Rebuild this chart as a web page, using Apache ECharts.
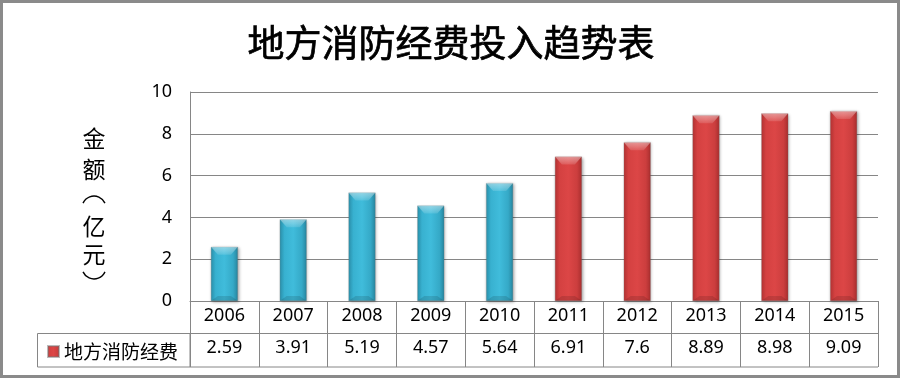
<!DOCTYPE html>
<html>
<head>
<meta charset="utf-8">
<script src="https://cdn.jsdelivr.net/npm/echarts@6/dist/echarts.min.js"></script>
<style>
html,body{margin:0;padding:0;background:#fff;}
#c{width:902px;height:379px;}
</style>
</head>
<body>
<div id="c"></div>
<script>
const titleText = '地方消防经费投入趋势表';
const seriesName = '地方消防经费';
const yAxisChars = ['金','额','(','亿','元',')'];
const years = ['2006','2007','2008','2009','2010','2011','2012','2013','2014','2015'];
const values = [2.59, 3.91, 5.19, 4.57, 5.64, 6.91, 7.6, 8.89, 8.98, 9.09];
const valueLabels = ['2.59','3.91','5.19','4.57','5.64','6.91','7.6','8.89','8.98','9.09'];
const blueCount = 5;

const G = echarts.graphic.LinearGradient;
const blueGrad = new G(0,0,1,0,[
  {offset:0,color:'#2b93ae'},{offset:0.18,color:'#38b1d0'},{offset:0.5,color:'#40bcdb'},
  {offset:0.82,color:'#35a9c7'},{offset:1,color:'#27859e'}]);
const redGrad = new G(0,0,1,0,[
  {offset:0,color:'#b73434'},{offset:0.18,color:'#d44141'},{offset:0.5,color:'#dc4646'},
  {offset:0.82,color:'#cc3e3e'},{offset:1,color:'#a82e2e'}]);

const gridLine = '#868686';
const font = '"Noto Sans", "Open Sans", sans-serif';
const cjk = '"Noto Sans CJK SC", sans-serif';
const BAR_W = 27;

// vertical axis name: glyphs stacked; the parentheses of vertical text are drawn as arcs
const nameX = 94;
const nameYs = [138, 169, 200, 226, 254, 275];
const nameGraphics = [];
yAxisChars.forEach((ch, i) => {
  if (ch === '(' || ch === ')') {
    const r = 12, span = 66 * Math.PI / 180;
    const up = ch === '(';
    const mid = up ? 1.5 * Math.PI : 0.5 * Math.PI;
    nameGraphics.push({type:'arc', silent:true,
      shape:{cx:nameX, cy: up ? nameYs[i] + 8 : nameYs[i] - 8, r:r,
        startAngle:mid - span, endAngle:mid + span, clockwise:true},
      style:{stroke:'#000', lineWidth:1.4, fill:null}});
  } else {
    nameGraphics.push({type:'text', x:nameX, y:nameYs[i], silent:true,
      style:{text:ch, fill:'#000', align:'center', verticalAlign:'middle',
        font:'23px "Noto Sans CJK SC", sans-serif'}});
  }
});

const chart = echarts.init(document.getElementById('c'), null, {renderer:'canvas'});
chart.setOption({
  animation:false,
  backgroundColor:'#fff',
  title:{text:titleText,left:'center',top:19,
    textStyle:{fontFamily:cjk,fontSize:37,fontWeight:'normal',color:'#000',
      textBorderColor:'#000',textBorderWidth:0.7}},
  legend:{left:42,top:337,icon:'rect',itemWidth:11,itemHeight:11,itemGap:5,
    textStyle:{fontFamily:cjk,fontSize:19,color:'#000'},data:[seriesName]},
  grid:{left:190,right:24,top:92,bottom:78},
  xAxis:[
    {type:'category',data:years,position:'bottom',
      axisLine:{lineStyle:{color:gridLine,width:1}},
      axisTick:{show:true,length:32,lineStyle:{color:gridLine}},
      axisLabel:{margin:6,fontFamily:font,fontSize:18,color:'#000'}},
    {type:'category',data:valueLabels,position:'bottom',offset:32,
      axisLine:{lineStyle:{color:gridLine,width:1}},
      axisTick:{show:true,length:34,lineStyle:{color:gridLine}},
      axisLabel:{margin:6,fontFamily:font,fontSize:18,color:'#000'}}
  ],
  yAxis:{type:'value',min:0,max:10,interval:2,
    axisLine:{show:true,lineStyle:{color:gridLine}},
    axisTick:{show:false},
    axisLabel:{margin:18,fontFamily:font,fontSize:18,color:'#000'},
    splitLine:{lineStyle:{color:gridLine,width:1}}},
  series:[{
    name:seriesName,type:'bar',xAxisIndex:0,barWidth:BAR_W,
    itemStyle:{color:redGrad,borderColor:'rgba(120,120,120,0.5)',borderWidth:0.5,
      shadowBlur:3,shadowColor:'rgba(0,0,0,0.35)',shadowOffsetX:1,shadowOffsetY:1},
    data:values.map((v,i)=>({value:v,itemStyle:{color:i<blueCount?blueGrad:redGrad}}))
  },{
    name:'bevel',type:'custom',xAxisIndex:0,silent:true,z:3,
    data:values.map((v,i)=>[i,v]),
    renderItem:function(params, api){
      const top = api.coord([api.value(0), api.value(1)]);
      const base = api.coord([api.value(0), 0]);
      const h = 8, inset = 7, half = BAR_W/2;
      const x = top[0], y = top[1];
      return {type:'group', children:[
        {type:'polygon', shape:{points:[[x-half,y],[x+half,y],[x+half-inset,y+h],[x-half+inset,y+h]]},
          style:{fill:new G(0,0,0,1,[{offset:0,color:'rgba(255,255,255,0.45)'},{offset:1,color:'rgba(255,255,255,0.12)'}])}},
        {type:'polygon', shape:{points:[[x-half,base[1]],[x+half,base[1]],[x+half-inset,base[1]-5],[x-half+inset,base[1]-5]]},
          style:{fill:'rgba(0,0,0,0.12)'}}
      ]};
    }
  }],
  graphic:nameGraphics.concat([
    {type:'rect',shape:{x:37.5,y:333.5,width:152.5,height:33.5},
      style:{fill:null,stroke:gridLine,lineWidth:1},silent:true},
    {type:'line',shape:{x1:190,y1:367,x2:878,y2:367},
      style:{stroke:gridLine,lineWidth:1},silent:true},
    {type:'rect',shape:{x:1.5,y:1.5,width:897,height:375},
      style:{fill:null,stroke:'#8a8a8a',lineWidth:3},silent:true}
  ])
});
</script>
</body>
</html>
